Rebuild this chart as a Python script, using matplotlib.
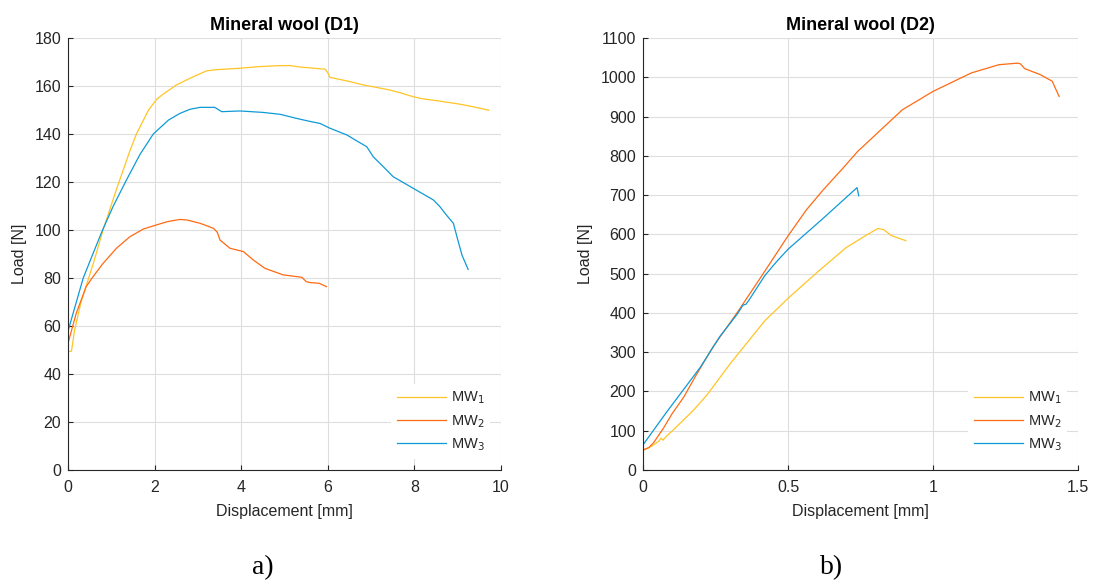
import matplotlib
matplotlib.use("Agg")
import matplotlib.pyplot as plt

plt.rcParams['font.family'] = ['Liberation Sans', 'DejaVu Sans']

# ---- Test D1 : displacement [mm] / load [N] ----
d1_mw1_x = [0, 0.08, 0.15, 0.3, 0.47, 0.6, 0.81, 1.12, 1.43, 1.58, 1.86, 2.05, 2.19, 2.5,
            2.85, 3.2, 3.43, 3.97, 4.43, 4.9, 5.13, 5.36, 5.94, 6.0, 6.05, 6.52, 6.83,
            7.13, 7.44, 7.67, 7.98, 8.21, 8.59, 9.06, 9.37, 9.72]
d1_mw1_y = [49.3, 49.5, 58, 70, 79.5, 87, 100, 117, 133, 140, 150, 154.5, 156.5, 160.4,
            163.5, 166.3, 166.8, 167.4, 168.1, 168.5, 168.5, 167.9, 167.0, 165.5, 163.6, 161.8,
            160.4, 159.4, 158.3, 157.2, 155.5, 154.6, 153.7, 152.4, 151.3, 149.9]

d1_mw2_x = [0, 0.19, 0.42, 0.58, 0.81, 1.12, 1.43, 1.74, 2.04, 2.3, 2.58, 2.74, 3.05,
            3.36, 3.45, 3.51, 3.74, 4.05, 4.28, 4.55, 4.97, 5.4, 5.5, 5.59, 5.8, 5.97]
d1_mw2_y = [52.8, 65.3, 76.4, 80.6, 86.1, 92.4, 97.2, 100.4, 102.1, 103.5, 104.4, 104.2,
            102.8, 100.7, 99.0, 95.8, 92.4, 91.0, 87.5, 84.0, 81.3, 80.3, 78.5, 78.1, 77.8, 76.4]

d1_mw3_x = [0, 0.05, 0.35, 0.585, 0.81, 1.046, 1.355, 1.663, 1.97, 2.32, 2.587, 2.818,
            3.05, 3.39, 3.55, 3.97, 4.5, 4.9, 5.28, 5.6, 5.82, 6.05, 6.44, 6.7, 6.9, 7.05,
            7.28, 7.51, 7.97, 8.44, 8.59, 8.75, 8.9, 9.0, 9.1, 9.24]
d1_mw3_y = [57.8, 61, 79.9, 90.5, 100.5, 110, 121, 131.5, 140.0, 145.8, 148.6, 150.3,
            151.1, 151.1, 149.3, 149.6, 149.0, 148.2, 146.5, 145.2, 144.4, 142.4, 139.6,
            136.8, 134.7, 130.5, 126.4, 122.2, 117.4, 112.5, 109.7, 106.0, 102.8, 96.0,
            89.5, 83.6]

# ---- Test D2 ----
d2_mw1_x = [0, 0.025, 0.054, 0.062, 0.069, 0.077, 0.117, 0.175, 0.221, 0.3, 0.42, 0.5,
            0.6, 0.7, 0.77, 0.81, 0.83, 0.856, 0.906]
d2_mw1_y = [50, 58.5, 72.9, 81, 76, 83, 111, 153, 191.5, 270, 380, 437,
            503, 566, 598, 615, 612, 597, 584]

d2_mw2_x = [0, 0.02, 0.037, 0.071, 0.1, 0.14, 0.182, 0.241, 0.324, 0.401, 0.5, 0.563,
            0.621, 0.684, 0.74, 0.894, 1.0, 1.132, 1.227, 1.292, 1.302, 1.316, 1.369,
            1.411, 1.435]
d2_mw2_y = [51, 57, 70, 107, 143, 185, 240, 313, 400, 485, 596, 662,
            713, 764, 811, 917, 964, 1011, 1032, 1036, 1034, 1022, 1007,
            990, 951]

d2_mw3_x = [0, 0.037, 0.083, 0.14, 0.198, 0.265, 0.324, 0.345, 0.355, 0.365, 0.42,
            0.46, 0.5, 0.62, 0.738, 0.744]
d2_mw3_y = [64, 102, 149, 205, 262, 340, 396, 420, 422, 432, 495,
            530, 562, 640, 719, 698]

series_labels = ['MW$_1$', 'MW$_2$', 'MW$_3$']
series_colors = ['#FFC425', '#FF6A13', '#0E9AD7']

d1_series = [(d1_mw1_x, d1_mw1_y), (d1_mw2_x, d1_mw2_y), (d1_mw3_x, d1_mw3_y)]
d2_series = [(d2_mw1_x, d2_mw1_y), (d2_mw2_x, d2_mw2_y), (d2_mw3_x, d2_mw3_y)]

d1_xticks = [0, 2, 4, 6, 8, 10]
d1_yticks = list(range(0, 181, 20))
d2_xticks = [0, 0.5, 1, 1.5]
d2_xticklabels = ['0', '0.5', '1', '1.5']
d2_yticks = list(range(0, 1101, 100))

TXT = '#262626'
GRID = '#DEDEDE'

fig = plt.figure(figsize=(10.96, 5.84), dpi=100)
W, H = 1096, 584
ax1 = fig.add_axes([68 / W, 114 / H, 433 / W, 432 / H])
ax2 = fig.add_axes([643 / W, 114 / H, 435 / W, 432 / H])


def style(ax, series, title, xlim, ylim, xticks, yticks, xticklabels=None, ylab_x=-0.1):
    for (x, y), lab, col in zip(series, series_labels, series_colors):
        ax.plot(x, y, color=col, lw=0.9, label=lab)
    ax.set_xlim(*xlim)
    ax.set_ylim(*ylim)
    ax.set_xticks(xticks)
    if xticklabels is not None:
        ax.set_xticklabels(xticklabels)
    ax.set_yticks(yticks)
    ax.grid(True, color=GRID, lw=0.8)
    ax.set_axisbelow(True)
    for s in ('top', 'right'):
        ax.spines[s].set_visible(False)
    for s in ('left', 'bottom'):
        ax.spines[s].set_color(TXT)
        ax.spines[s].set_linewidth(0.8)
    ax.tick_params(direction='in', length=3.5, width=0.8, color=TXT,
                   labelcolor=TXT, labelsize=11.5)
    ax.tick_params(axis='x', pad=7)
    ax.tick_params(axis='y', pad=5)
    ax.set_title(title, fontsize=13, fontweight='bold', color='black', pad=6)
    ax.set_xlabel('Displacement [mm]', fontsize=11.5, color=TXT, labelpad=7)
    ax.set_ylabel('Load [N]', fontsize=11.5, color=TXT)
    ax.yaxis.set_label_coords(ylab_x, 0.5)
    leg = ax.legend(loc='lower right', bbox_to_anchor=(0.975, 0.026), borderaxespad=0,
                    frameon=True, fancybox=False, facecolor='white', edgecolor='none',
                    framealpha=1, fontsize=10.5, handlelength=3.4, handletextpad=0.3,
                    labelspacing=0.45, borderpad=0.4)
    for t in leg.get_texts():
        t.set_color(TXT)


style(ax1, d1_series, 'Mineral wool (D1)', (0, 10), (0, 180), d1_xticks, d1_yticks,
      ylab_x=-0.095)
style(ax2, d2_series, 'Mineral wool (D2)', (0, 1.5), (0, 1100), d2_xticks, d2_yticks,
      xticklabels=d2_xticklabels, ylab_x=-0.115)

fig.text(263 / W, 1 - 568 / H, 'a)', family=['Liberation Serif', 'DejaVu Serif'],
         fontsize=20, ha='center', va='center', color='black')
fig.text(832 / W, 1 - 568 / H, 'b)', family=['Liberation Serif', 'DejaVu Serif'],
         fontsize=20, ha='center', va='center', color='black')

fig.savefig('out.png', dpi=100, facecolor='white')
